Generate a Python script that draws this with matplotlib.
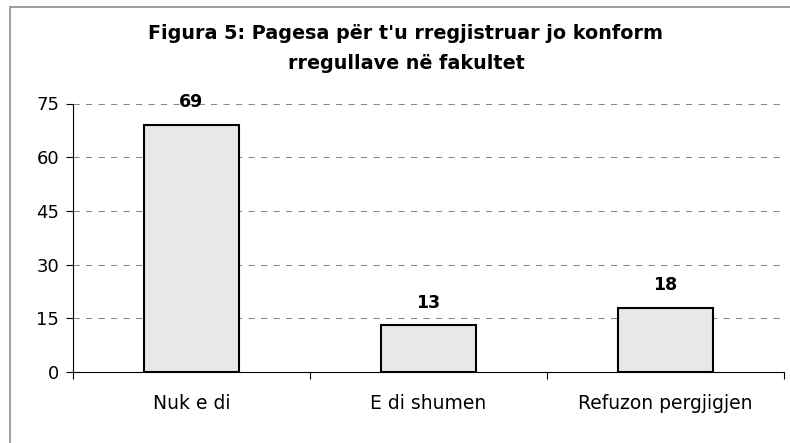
import matplotlib.pyplot as plt
from matplotlib.patches import Rectangle

categories = ['Nuk e di', 'E di shumen', 'Refuzon pergjigjen']
values = [69, 13, 18]
yticks = [0, 15, 30, 45, 60, 75]
title = "Figura 5: Pagesa për t'u rregjistruar jo konform\nrregullave në fakultet"

# the reference looks like Arial stretched sideways; DejaVu's wider glyphs come close
plt.rcParams['font.family'] = ['DejaVu Sans']

fig = plt.figure(figsize=(7.9, 4.43), dpi=100)
W, H = 790, 443

# grey frame around the chart, cut off at right and bottom
fig.patches.append(Rectangle((10 / W, -0.1), 1.2, 1 - 7 / H + 0.1,
                             transform=fig.transFigure, fill=False,
                             edgecolor='#8c8c8c', linewidth=1.2))

ax = fig.add_axes([73 / W, (H - 372) / H, (784 - 73) / W, (372 - 103.5) / H])

x = range(len(categories))
ax.bar(x, values, width=0.4, color='#e8e8e8', edgecolor='black', linewidth=1.5, zorder=3)
for i, v in zip(x, values):
    ax.annotate(str(v), (i, v), xytext=(0, 10), textcoords='offset points',
                ha='center', va='bottom', fontsize=12.5, fontweight='bold')

ax.set_xlim(-0.5, len(categories) - 0.5)
ax.set_ylim(0, 75)
ax.set_yticks(yticks)
ax.set_xticks(list(x))
ax.set_xticklabels(categories)
ax.set_xticks([i - 0.5 for i in range(len(categories) + 1)], minor=True)
ax.tick_params(axis='x', which='major', length=0, pad=16, labelsize=13.5)
ax.tick_params(axis='x', which='minor', length=5, width=0.8, direction='out')
ax.tick_params(axis='y', length=5, width=0.8, pad=5, labelsize=13)

ax.grid(axis='y', color='#8a8a8a', linestyle=(0, (6, 6)), linewidth=0.75, zorder=0)
ax.spines['top'].set_visible(False)
ax.spines['right'].set_visible(False)
ax.spines['left'].set_linewidth(0.8)
ax.spines['bottom'].set_linewidth(0.8)

fig.text(406 / W, 1 - 24 / H, title, ha='center', va='top', fontsize=13.8,
         fontweight='bold', linespacing=1.75)

fig.savefig('out.png', dpi=100)
